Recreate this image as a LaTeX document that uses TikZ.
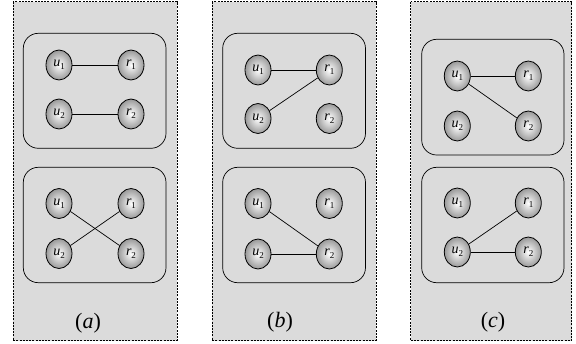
\documentclass[tikz,border=0pt]{standalone}
\usepackage{fontspec}
\setmainfont{Liberation Serif}
\usetikzlibrary{shapes.geometric}
\newcommand\vlab[2]{\textit{#1}\raisebox{-0.45ex}{\fontsize{9}{9}\selectfont #2}}
\tikzset{
  panelbox/.style={draw=black, fill=black!14, line width=0.6pt, dash pattern=on 2pt off 1.2pt},
  groupbox/.style={draw=black, line width=0.7pt, rounded corners=15pt},
  vert/.style={ellipse, draw=black, line width=0.8pt, minimum width=26pt, minimum height=30pt,
    inner sep=0pt, shading=radial, inner color=white, outer color=black!40,
    font=\fontsize{14}{14}\selectfont},
  edge/.style={draw=black, line width=0.7pt},
  caption/.style={font=\fontsize{22}{22}\selectfont}
}
\newcommand\fourverts[5]{%
  \node[vert] (#1u1) at (#2,#4) {\vlab{u}{1}};
  \node[vert] (#1r1) at (#3,#4) {\vlab{r}{1}};
  \node[vert] (#1u2) at (#2,#5) {\vlab{u}{2}};
  \node[vert] (#1r2) at (#3,#5) {\vlab{r}{2}};
}
\begin{document}
\begin{tikzpicture}[x=1pt,y=-1pt]
\useasboundingbox (0,0) rectangle (576,343);
% panel (a)
\draw[panelbox] (13,1.5) rectangle (177,340.5);
\draw[groupbox] (23.3,33.3) rectangle (166,148.3);
\draw[groupbox] (23.3,167.3) rectangle (166,282.7);
\fourverts{at}{59}{131}{65}{114}
\fourverts{ab}{59}{131}{203.5}{253.5}
\draw[edge] (atu1) -- (atr1);
\draw[edge] (atu2) -- (atr2);
\draw[edge] (abu1) -- (abr2);
\draw[edge] (abu2) -- (abr1);
\node[caption] (capa) at (88,323) {(\textit{a})};
% panel (b)
\draw[panelbox] (212,1.5) rectangle (376,340.5);
\draw[groupbox] (222.7,33.3) rectangle (365.5,148.3);
\draw[groupbox] (222.7,167.3) rectangle (365.5,282.7);
\fourverts{bt}{258}{329.3}{70}{118.5}
\fourverts{bb}{258}{329.3}{203.5}{254}
\draw[edge] (btu1) -- (btr1);
\draw[edge] (btu2) -- (btr1);
\draw[edge] (bbu1) -- (bbr2);
\draw[edge] (bbu2) -- (bbr2);
\node[caption] (capb) at (280,322) {(\textit{b})};
% panel (c)
\draw[panelbox] (410.7,1.5) rectangle (571.7,340.5);
\draw[groupbox] (421.7,39.3) rectangle (564,155);
\draw[groupbox] (421.7,167.3) rectangle (564,282.7);
\fourverts{ct}{457.3}{528.3}{76}{126}
\fourverts{cb}{457.3}{528.3}{203}{252}
\draw[edge] (ctu1) -- (ctr1);
\draw[edge] (ctu1) -- (ctr2);
\draw[edge] (cbu2) -- (cbr1);
\draw[edge] (cbu2) -- (cbr2);
\node[caption] (capc) at (493,322) {(\textit{c})};
\end{tikzpicture}
\end{document}
